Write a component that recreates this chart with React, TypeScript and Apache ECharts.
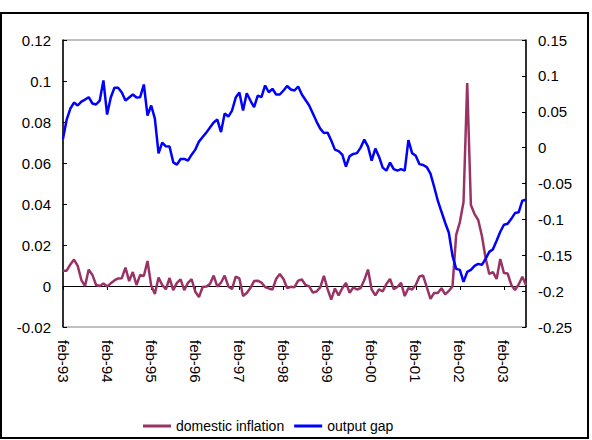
import React, { useEffect, useRef } from "react";
import * as echarts from "echarts";

const monthNames = ["jan", "feb", "mar", "apr", "may", "jun", "jul", "aug", "sep", "oct", "nov", "dec"];
const startYear = 1993;
const startMonth = 1; // feb
const monthCount = 127; // feb-93 .. aug-03

const categories: string[] = [];
for (let i = 0; i < monthCount; i++) {
  const m = (startMonth + i) % 12;
  const y = startYear + Math.floor((startMonth + i) / 12);
  categories.push(monthNames[m] + "-" + String(y % 100).padStart(2, "0"));
}

const domesticInflation = [
  0.0075, 0.0075, 0.0105, 0.0129, 0.0098, 0.0029, 0.0000, 0.0080, 0.0054, 0.0005,
  0.0000, 0.0012, -0.0002, 0.0013, 0.0027, 0.0037, 0.0038, 0.0090, 0.0024, 0.0068,
  0.0005, 0.0054, 0.0049, 0.0122, 0.0002, -0.0039, 0.0041, 0.0005, -0.0016, 0.0039,
  -0.0020, 0.0015, 0.0032, -0.0020, 0.0015, 0.0033, -0.0028, -0.0054, -0.0005, -0.0003,
  0.0010, 0.0051, -0.0003, 0.0016, 0.0051, -0.0002, -0.0015, 0.0046, 0.0037, -0.0049,
  -0.0034, -0.0010, 0.0024, 0.0026, 0.0017, -0.0005, -0.0012, -0.0017, 0.0034, 0.0059,
  0.0034, -0.0010, -0.0004, -0.0006, 0.0026, 0.0032, 0.0005, -0.0002, -0.0032, -0.0027,
  -0.0007, 0.0049, -0.0015, -0.0066, -0.0012, -0.0046, -0.0011, 0.0015, -0.0033, -0.0007,
  -0.0017, -0.0010, 0.0029, 0.0080, -0.0017, -0.0046, -0.0016, -0.0027, 0.0010, 0.0034,
  -0.0015, -0.0005, 0.0015, -0.0049, -0.0010, -0.0017, 0.0005, 0.0046, 0.0051, -0.0005,
  -0.0063, -0.0034, -0.0034, -0.0011, -0.0041, -0.0024, -0.0002, 0.0249, 0.0312, 0.0410,
  0.0990, 0.0395, 0.0351, 0.0322, 0.0244, 0.0137, 0.0059, 0.0068, 0.0034, 0.0132,
  0.0063, 0.0061, 0.0005, -0.0020, 0.0007, 0.0045, 0.0005,
];

const outputGap = [
  0.0122, 0.0391, 0.0545, 0.0628, 0.0587, 0.0642, 0.0670, 0.0703, 0.0615, 0.0601,
  0.0656, 0.0936, 0.0461, 0.0698, 0.0834, 0.0834, 0.0768, 0.0656, 0.0698, 0.0740,
  0.0698, 0.0703, 0.0880, 0.0447, 0.0587, 0.0405, -0.0080, 0.0070, 0.0018, 0.0014,
  -0.0205, -0.0237, -0.0158, -0.0158, -0.0182, -0.0098, -0.0028, 0.0084, 0.0147, 0.0209,
  0.0279, 0.0349, 0.0391, 0.0216, 0.0475, 0.0433, 0.0517, 0.0698, 0.0768, 0.0517,
  0.0758, 0.0656, 0.0563, 0.0726, 0.0703, 0.0866, 0.0772, 0.0820, 0.0740, 0.0740,
  0.0796, 0.0859, 0.0810, 0.0796, 0.0852, 0.0740, 0.0663, 0.0587, 0.0475, 0.0363,
  0.0265, 0.0203, 0.0209, 0.0098, -0.0028, -0.0049, -0.0098, -0.0265, -0.0119, -0.0088,
  -0.0077, 0.0000, 0.0112, 0.0014, -0.0182, -0.0014, -0.0126, -0.0279, -0.0321, -0.0209,
  -0.0300, -0.0321, -0.0300, -0.0321, 0.0105, -0.0077, -0.0112, -0.0230, -0.0242, -0.0272,
  -0.0363, -0.0545, -0.0740, -0.0894, -0.1047, -0.1187, -0.1508, -0.1690, -0.1704, -0.1872,
  -0.1732, -0.1704, -0.1648, -0.1620, -0.1634, -0.1550, -0.1453, -0.1415, -0.1299, -0.1173,
  -0.1075, -0.1061, -0.0992, -0.0912, -0.0901, -0.0740, -0.0726,
];

const seriesNames = ["domestic inflation", "output gap"];
const leftAxis = { min: -0.02, max: 0.12, interval: 0.02 };
const rightAxis = { min: -0.25, max: 0.15, interval: 0.05 };

const FONT = "'Liberation Sans', Arial, Helvetica, sans-serif";

export default function App() {
  const ref = useRef<HTMLDivElement>(null);
  useEffect(() => {
    if (!ref.current) return;
    const chart = echarts.init(ref.current, undefined, { renderer: "svg" });
    const fmt = (v: number) => String(+v.toFixed(2));
    chart.setOption({
      animation: false,
      backgroundColor: "#fff",
      textStyle: { fontFamily: FONT },
      graphic: [
        {
          type: "rect",
          silent: true,
          z: -10,
          shape: { x: 1, y: 13, width: 587, height: 425 },
          style: { fill: "none", stroke: "#000", lineWidth: 2 },
        },
      ],
      grid: {
        left: 63,
        right: 66,
        top: 40,
        bottom: 113,
        show: true,
        borderColor: "#808080",
        borderWidth: 1,
        backgroundColor: "transparent",
      },
      legend: {
        data: seriesNames,
        left: 138,
        top: 414,
        icon: "rect",
        itemWidth: 28,
        itemHeight: 3,
        itemGap: 10,
        textStyle: { fontSize: 14, color: "#000", fontFamily: FONT },
      },
      xAxis: [
        {
          type: "category",
          data: categories,
          boundaryGap: false,
          position: "bottom",
          axisLine: { show: false, onZero: false },
          axisTick: { show: false },
          axisLabel: {
            interval: 11,
            rotate: -90,
            fontSize: 15,
            margin: 13,
            color: "#000",
            fontFamily: FONT,
          },
          splitLine: { show: false },
        },
        {
          type: "category",
          data: categories,
          boundaryGap: false,
          position: "bottom",
          axisLine: { show: true, onZero: true, onZeroAxisIndex: 0, lineStyle: { color: "#000", width: 1 } },
          axisTick: { show: true, interval: 11, length: 4, lineStyle: { color: "#000", width: 1 } },
          axisLabel: { show: false },
          splitLine: { show: false },
        },
      ],
      yAxis: [
        {
          type: "value",
          position: "left",
          min: leftAxis.min,
          max: leftAxis.max,
          interval: leftAxis.interval,
          axisLine: { show: true, onZero: false, lineStyle: { color: "#000", width: 1.5 } },
          axisTick: { show: true, inside: true, length: 4, lineStyle: { color: "#000" } },
          axisLabel: { fontSize: 15, color: "#000", margin: 12, formatter: fmt, fontFamily: FONT },
          splitLine: { show: false },
        },
        {
          type: "value",
          position: "right",
          min: rightAxis.min,
          max: rightAxis.max,
          interval: rightAxis.interval,
          axisLine: { show: true, onZero: false, lineStyle: { color: "#000", width: 1.5 } },
          axisTick: { show: true, inside: true, length: 4, lineStyle: { color: "#000" } },
          axisLabel: { fontSize: 15, color: "#000", margin: 12, formatter: fmt, fontFamily: FONT },
          splitLine: { show: false },
        },
      ],
      series: [
        {
          name: seriesNames[0],
          type: "line",
          xAxisIndex: 0,
          yAxisIndex: 0,
          data: domesticInflation,
          symbol: "none",
          itemStyle: { color: "#993366" },
          lineStyle: { color: "#993366", width: 2.5 },
        },
        {
          name: seriesNames[1],
          type: "line",
          xAxisIndex: 0,
          yAxisIndex: 1,
          data: outputGap,
          symbol: "none",
          itemStyle: { color: "#0000FF" },
          lineStyle: { color: "#0000FF", width: 2.5 },
        },
      ],
    });
    return () => chart.dispose();
  }, []);
  return <div ref={ref} style={{ position: "absolute", left: 0, top: 0, width: 592, height: 440 }} />;
}
